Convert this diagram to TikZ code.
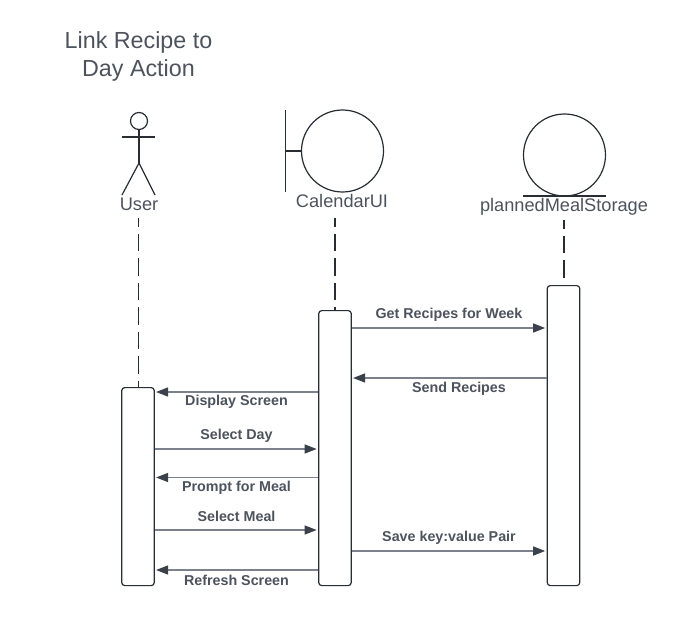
\documentclass[tikz,border=0pt]{standalone}
\usepackage{fontspec}
\setmainfont{Liberation Sans}
\usetikzlibrary{positioning,arrows.meta}
\definecolor{ink}{HTML}{282C33}
\definecolor{labelgray}{HTML}{4C535D}
\definecolor{linegray}{HTML}{7B828C}
\definecolor{headdark}{HTML}{3A414A}

\begin{document}
\begin{tikzpicture}[
  x=1pt, y=-1pt,
  bar/.style={rectangle, draw=ink, fill=white, line width=1.2pt, rounded corners=3pt, minimum width=32.5pt, inner sep=0pt},
  actorname/.style={font=\fontsize{18.2}{20}\selectfont, text=labelgray, inner sep=0pt},
  msglabel/.style={font=\fontsize{14.3}{16}\selectfont\bfseries, text=labelgray, inner sep=0pt},
  figline/.style={draw=ink, line width=1.2pt},
  lifeline/.style={draw=ink, line width=1.2pt, dash pattern=on 17.5pt off 7pt, dash phase=9pt},
  msg/.style={draw=linegray, line width=1.2pt, -{Triangle[length=12pt,width=9pt,color=headdark]}}
]
\useasboundingbox (0,0) rectangle (682,639);

% Title
\node[font=\fontsize{23.3}{28}\selectfont, text=labelgray, align=center, inner sep=0pt] (title) at (138.5,56) {Link Recipe to\\Day Action};

% User actor
\node[circle, figline, minimum size=17pt, inner sep=0pt] (head) at (139,121) {};
\coordinate (armL) at (122,137);
\coordinate (armR) at (155,137);
\coordinate (hip) at (139,163);
\coordinate (footL) at (122,195);
\coordinate (footR) at (155,195);
\draw[figline] (head) -- (hip);
\draw[figline] (armL) -- (armR);
\draw[figline] (footL) -- (hip) -- (footR);
\node[actorname] (user) at (139,204.5) {User};

% Boundary
\node[circle, figline, minimum size=82pt, inner sep=0pt] (calendar) at (342.5,151) {};
\coordinate (wallTop) at (285.4,110);
\coordinate (wallBottom) at (285.4,192);
\coordinate (wallMid) at (285.4,151);
\draw[figline] (wallTop) -- (wallBottom);
\draw[figline] (wallMid) -- (calendar);
\node[actorname] (calendarUI) at (342,201) {CalendarUI};

% Entity
\node[circle, figline, minimum size=82pt, inner sep=0pt] (storage) at (564.5,155) {};
\coordinate (baseL) at (523,196);
\coordinate (baseR) at (606,196);
\draw[figline] (baseL) -- (baseR);
\node[actorname] (plannedMeal) at (564,206.5) {plannedMealStorage};

% Activation bars
\node[bar, anchor=north, minimum height=198pt] (userBar) at (138,387) {};
\node[bar, anchor=north, minimum height=275pt] (calBar) at (335,310) {};
\node[bar, anchor=north, minimum height=300pt] (storeBar) at (563.5,285) {};

% Lifelines
\coordinate (userTop) at (138.5,218);
\coordinate (calTop) at (335,218);
\coordinate (storeTop) at (564,220);
\draw[lifeline] (userTop) -- (userTop |- userBar.north);
\draw[lifeline] (calTop) -- (calTop |- calBar.north);
\draw[lifeline] (storeTop) -- (storeTop |- storeBar.north);

% Message rows
\coordinate (getRow) at (0,328);
\coordinate (sendRow) at (0,378);
\coordinate (displayRow) at (0,392);
\coordinate (dayRow) at (0,449);
\coordinate (promptRow) at (0,477.5);
\coordinate (mealRow) at (0,530);
\coordinate (saveRow) at (0,551);
\coordinate (refreshRow) at (0,570);

% Messages
\draw[msg] (calBar.east |- getRow) -- ([xshift=-1.5pt]storeBar.west |- getRow);
\draw[msg] (storeBar.west |- sendRow) -- ([xshift=1.2pt]calBar.east |- sendRow);
\draw[msg] (calBar.west |- displayRow) -- ([xshift=1.2pt]userBar.east |- displayRow);
\draw[msg] (userBar.east |- dayRow) -- ([xshift=-1.5pt]calBar.west |- dayRow);
\draw[msg] (calBar.west |- promptRow) -- ([xshift=1.2pt]userBar.east |- promptRow);
\draw[msg] (userBar.east |- mealRow) -- ([xshift=-1.5pt]calBar.west |- mealRow);
\draw[msg] (calBar.east |- saveRow) -- ([xshift=-1.5pt]storeBar.west |- saveRow);
\draw[msg] (calBar.west |- refreshRow) -- ([xshift=1.2pt]userBar.east |- refreshRow);

% Message labels
\node[msglabel] (getLabel) at (449,315) {Get Recipes for Week};
\node[msglabel] (sendLabel) at (459,389) {Send Recipes};
\node[msglabel] (displayLabel) at (236.5,402) {Display Screen};
\node[msglabel] (dayLabel) at (236.5,436) {Select Day};
\node[msglabel] (promptLabel) at (236.5,488) {Prompt for Meal};
\node[msglabel] (mealLabel) at (236.5,516) {Select Meal};
\node[msglabel] (saveLabel) at (449,538) {Save key:value Pair};
\node[msglabel] (refreshLabel) at (236.5,580) {Refresh Screen};

\end{tikzpicture}
\end{document}
